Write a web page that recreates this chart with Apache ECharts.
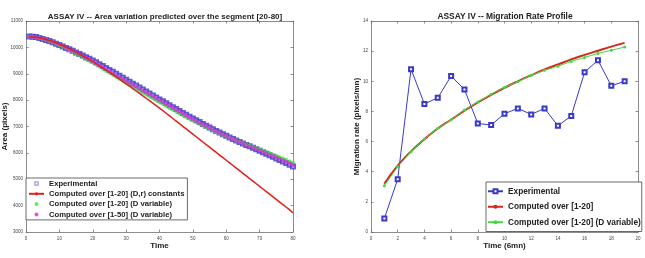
<!DOCTYPE html>
<html>
<head>
<meta charset="utf-8">
<script src="https://cdn.jsdelivr.net/npm/echarts@6/dist/echarts.min.js"></script>
<style>
  html, body { margin: 0; padding: 0; background: #fff; }
  #left { position: absolute; left: 0; top: 0; width: 322px; height: 258px; }
  #right { position: absolute; left: 322px; top: 0; width: 323px; height: 258px; }
</style>
</head>
<body>
<div id="left"></div>
<div id="right"></div>
<script>
// ---- left panel: area over time ----
const areaTime = Array.from({ length: 80 }, (_, i) => i + 1);

const areaExperimental = [
  10410, 10405, 10390, 10355, 10318, 10280, 10238, 10190, 10140, 10088,
  10035, 9980, 9925, 9868, 9810, 9750, 9690, 9628, 9565, 9500,
  9432, 9362, 9290, 9218, 9145, 9072, 8998, 8925, 8850, 8776,
  8700, 8625, 8550, 8475, 8400, 8325, 8250, 8176, 8102, 8028,
  7954, 7880, 7806, 7733, 7660, 7588, 7516, 7445, 7374, 7304,
  7235, 7166, 7098, 7030, 6963, 6897, 6832, 6768, 6706, 6645,
  6585, 6527, 6470, 6414, 6358, 6302, 6248, 6195, 6140, 6085,
  6028, 5970, 5910, 5850, 5790, 5732, 5675, 5615, 5550, 5480
];

const areaConstants = [
  10400, 10396, 10383, 10362, 10335, 10302, 10264, 10222, 10175, 10124,
  10070, 10012, 9951, 9888, 9822, 9754, 9683, 9610, 9535, 9458,
  9380, 9300, 9218, 9135, 9051, 8966, 8880, 8793, 8705, 8616,
  8527, 8437, 8346, 8255, 8163, 8071, 7978, 7885, 7792, 7698,
  7600, 7502, 7403, 7304, 7205, 7106, 7007, 6908, 6809, 6710,
  6611, 6512, 6413, 6314, 6215, 6116, 6017, 5918, 5819, 5720,
  5621, 5522, 5423, 5324, 5225, 5126, 5027, 4928, 4829, 4730,
  4631, 4532, 4433, 4334, 4235, 4136, 4037, 3938, 3839, 3720
];

const areaVariable20 = [
  10400, 10394, 10378, 10354, 10322, 10285, 10243, 10195, 10142, 10085,
  10025, 9964, 9901, 9836, 9770, 9702, 9633, 9563, 9493, 9422,
  9347, 9271, 9194, 9117, 9040, 8964, 8888, 8812, 8736, 8660,
  8584, 8509, 8434, 8360, 8287, 8214, 8141, 8068, 7995, 7922,
  7850, 7778, 7706, 7635, 7565, 7495, 7426, 7358, 7290, 7224,
  7159, 7095, 7032, 6970, 6910, 6851, 6793, 6736, 6680, 6625,
  6571, 6518, 6466, 6415, 6365, 6316, 6268, 6220, 6173, 6126,
  6078, 6030, 5982, 5933, 5884, 5834, 5783, 5731, 5677, 5623
];

const areaVariable50 = [
  10400, 10396, 10382, 10360, 10330, 10295, 10255, 10210, 10160, 10105,
  10048, 9990, 9930, 9868, 9805, 9740, 9674, 9607, 9540, 9472,
  9400, 9327, 9253, 9179, 9105, 9031, 8957, 8883, 8809, 8735,
  8661, 8587, 8513, 8440, 8367, 8294, 8221, 8148, 8075, 8002,
  7929, 7856, 7783, 7710, 7638, 7566, 7494, 7423, 7352, 7282,
  7213, 7145, 7078, 7012, 6947, 6883, 6820, 6758, 6697, 6637,
  6578, 6520, 6463, 6407, 6352, 6298, 6245, 6192, 6140, 6088,
  6035, 5982, 5929, 5875, 5821, 5766, 5710, 5653, 5594, 5535
];

// ---- right panel: migration rate ----
const rateTime = [1, 2, 3, 4, 5, 6, 7, 8, 9, 10, 11, 12, 13, 14, 15, 16, 17, 18, 19];
const rateExperimental = [0.9, 3.5, 10.8, 8.5, 8.9, 10.35, 9.45, 7.2, 7.1, 7.85, 8.2, 7.8, 8.2, 7.05, 7.7, 10.6, 11.4, 9.7, 10.0];
const rateConstants = [3.2, 4.4, 5.35, 6.15, 6.87, 7.45, 8.05, 8.6, 9.1, 9.57, 10.0, 10.4, 10.78, 11.12, 11.45, 11.75, 12.03, 12.3, 12.55];
const rateVariable = [3.07, 4.33, 5.33, 6.17, 6.88, 7.45, 8.1, 8.63, 9.14, 9.6, 9.97, 10.4, 10.73, 11.0, 11.32, 11.58, 11.85, 12.06, 12.27];

const FONT = "'Liberation Sans', Arial, sans-serif";
const frameLine = { color: "#707070", width: 0.8 };
const hollowSquare = "path://M0,0H10V10H0Z M2,2V8H8V2Z";

function pairs(xs, ys) {
  return xs.map((x, i) => [x, ys[i]]);
}

function axisPair(dim, min, max, interval, name, nameGap) {
  const main = {
    type: "value",
    min,
    max,
    interval,
    position: dim === "x" ? "bottom" : "left",
    name,
    nameLocation: "middle",
    nameGap,
    nameMoveOverlap: false,
    nameTextStyle: { fontFamily: FONT, fontWeight: "bold", fontSize: 8, color: "#222" },
    axisLine: { show: true, onZero: false, lineStyle: frameLine },
    axisTick: { show: true, inside: true, length: 2.5, lineStyle: frameLine },
    axisLabel: {
      fontFamily: FONT,
      fontSize: 4.5,
      color: "#444",
      margin: dim === "x" ? 4 : 3,
      formatter: (v) => String(v)
    },
    splitLine: { show: false }
  };
  const mirror = {
    type: "value",
    min,
    max,
    interval,
    position: dim === "x" ? "top" : "right",
    axisLine: { show: true, onZero: false, lineStyle: frameLine },
    axisTick: { show: true, inside: true, length: 2.5, lineStyle: frameLine },
    axisLabel: { show: false },
    splitLine: { show: false }
  };
  return [main, mirror];
}

function titleText(text, x, size) {
  return {
    text,
    left: x,
    top: 8,
    textAlign: "center",
    textStyle: { fontFamily: FONT, fontWeight: "bold", fontSize: size, color: "#222" }
  };
}

const leftChart = echarts.init(document.getElementById("left"), null, { renderer: "canvas" });
leftChart.setOption({
  animation: false,
  backgroundColor: "#fff",
  title: titleText("ASSAY IV -- Area variation predicted over the segment [20-80]", 160, 8),
  grid: { left: 26, right: 29, top: 21, bottom: 26, outerBoundsMode: "none" },
  xAxis: axisPair("x", 0, 80, 10, "Time", 10),
  yAxis: axisPair("y", 3000, 11000, 1000, "Area (pixels)", 17),
  legend: {
    left: 26,
    top: 178,
    orient: "vertical",
    itemWidth: 15,
    itemHeight: 4,
    itemGap: 1.3,
    padding: [1, 3, 1, 2],
    backgroundColor: "#fff",
    borderColor: "#444",
    borderWidth: 0.8,
    textStyle: { fontFamily: FONT, fontWeight: "bold", fontSize: 7.7, lineHeight: 9, color: "#222" },
    data: [
      { name: "Experimental", icon: hollowSquare, itemStyle: { color: "#3a3ac8", borderWidth: 0 } },
      "Computed over [1-20] (D,r) constants",
      "Computed over [1-20] (D variable)",
      "Computed over [1-50] (D variable)"
    ]
  },
  series: [
    {
      name: "Experimental",
      type: "scatter",
      symbol: "emptyRect",
      symbolSize: 4,
      itemStyle: { color: "#3a3ac8", borderColor: "#3a3ac8", borderWidth: 0.8 },
      data: pairs(areaTime, areaExperimental)
    },
    {
      name: "Computed over [1-20] (D,r) constants",
      type: "line",
      symbol: "none",
      lineStyle: { color: "#e0201c", width: 1.5 },
      itemStyle: { color: "#e0201c" },
      data: pairs(areaTime, areaConstants)
    },
    {
      name: "Computed over [1-20] (D variable)",
      type: "scatter",
      symbol: "circle",
      symbolSize: 4,
      itemStyle: { color: "#3ee83e" },
      data: pairs(areaTime, areaVariable20)
    },
    {
      name: "Computed over [1-50] (D variable)",
      type: "scatter",
      symbol: "circle",
      symbolSize: 4,
      itemStyle: { color: "#d42ed8" },
      data: pairs(areaTime, areaVariable50)
    }
  ]
});

const rightChart = echarts.init(document.getElementById("right"), null, { renderer: "canvas" });
rightChart.setOption({
  animation: false,
  backgroundColor: "#fff",
  title: titleText("ASSAY IV -- Migration Rate Profile", 178, 8.4),
  grid: { left: 49, right: 7, top: 21, bottom: 26, outerBoundsMode: "none" },
  xAxis: axisPair("x", 0, 20, 2, "Time (6mn)", 10),
  yAxis: axisPair("y", 0, 14, 2, "Migration rate (pixels/mn)", 10),
  legend: {
    left: 164,
    top: 182,
    orient: "vertical",
    itemWidth: 15,
    itemHeight: 5,
    itemGap: 5,
    padding: [4, 1, 4, 1],
    backgroundColor: "#fff",
    borderColor: "#444",
    borderWidth: 0.8,
    textStyle: { fontFamily: FONT, fontWeight: "bold", fontSize: 8.3, lineHeight: 10.5, color: "#222" },
    data: ["Experimental", "Computed over [1-20]", "Computed over [1-20] (D variable)"]
  },
  series: [
    {
      name: "Experimental",
      type: "line",
      symbol: "emptyRect",
      symbolSize: 4,
      lineStyle: { color: "#3a3ac8", width: 1 },
      itemStyle: { color: "#3a3ac8", borderColor: "#3a3ac8", borderWidth: 0.8 },
      data: pairs(rateTime, rateExperimental)
    },
    {
      name: "Computed over [1-20]",
      type: "line",
      smooth: true,
      symbol: "none",
      lineStyle: { color: "#d2281c", width: 2 },
      itemStyle: { color: "#d2281c" },
      data: pairs(rateTime, rateConstants)
    },
    {
      name: "Computed over [1-20] (D variable)",
      type: "line",
      symbol: "circle",
      symbolSize: 3,
      lineStyle: { color: "#44d844", width: 1 },
      itemStyle: { color: "#44d844" },
      data: pairs(rateTime, rateVariable)
    }
  ]
});
</script>
</body>
</html>
